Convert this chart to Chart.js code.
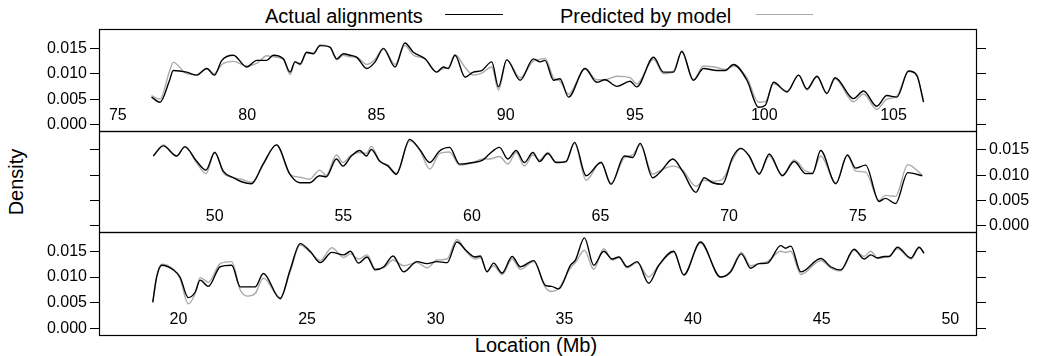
<!DOCTYPE html>
<html>
<head>
<meta charset="utf-8">
<script src="https://cdn.jsdelivr.net/npm/chart.js@4.4.1/dist/chart.umd.min.js"></script>
<style>
body { margin: 0; background: #fff; width: 1040px; height: 356px; position: relative; overflow: hidden; font-family: "Liberation Sans", Arial, sans-serif; }
canvas { position: absolute; left: 0; }
.txt { position: absolute; font-size: 20px; line-height: 20px; white-space: nowrap; color: #000; }
.key { position: absolute; height: 0; }
</style>
</head>
<body>
<div class="txt" style="left:265px; top:6px">Actual alignments</div>
<div class="key" style="left:445px; top:14px; width:58px; border-top:1.5px solid #000"></div>
<div class="txt" style="left:560px; top:6px">Predicted by model</div>
<div class="key" style="left:756px; top:14px; width:57px; border-top:1.5px solid #aaaaaa"></div>
<div class="txt" style="left:15.7px; top:181.5px; transform: translate(-50%, -50%) rotate(-90deg)">Density</div>
<div class="txt" style="left:536px; top:335px; transform: translateX(-50%)">Location (Mb)</div>

<canvas id="panel1" width="1040" height="130"></canvas>
<canvas id="panel2" width="1040" height="129"></canvas>
<canvas id="panel3" width="1040" height="131"></canvas>

<script>
// PANEL 1 (top)
const loc1 = [76.3, 76.63, 77.0, 77.14, 77.66, 78.05, 78.44, 78.73, 79.02, 79.47, 79.98, 80.37, 80.76, 81.01, 81.4, 81.66, 81.85, 82.05, 82.3, 82.56, 82.82, 83.2, 83.47, 83.72, 83.98, 84.24, 84.63, 84.95, 85.27, 85.72, 86.1, 86.43, 86.88, 87.33, 87.59, 87.78, 88.04, 88.43, 88.75, 89.07, 89.46, 89.72, 90.04, 90.56, 91.07, 91.33, 91.52, 91.85, 92.1, 92.43, 93.07, 93.52, 93.84, 94.3, 94.81, 95.07, 95.72, 96.1, 96.49, 96.81, 97.26, 97.65, 98.17, 98.49, 98.81, 99.33, 99.78, 100.04, 100.36, 100.88, 101.33, 101.65, 102.04, 102.42, 102.74, 103.45, 103.84, 104.35, 104.74, 105.13, 105.58, 105.9, 106.16]
const actual1 = [0.0054, 0.0044, 0.0087, 0.0106, 0.0103, 0.0097, 0.0110, 0.0097, 0.0126, 0.0136, 0.0113, 0.0126, 0.0126, 0.0136, 0.0129, 0.0103, 0.0123, 0.0119, 0.0142, 0.0139, 0.0155, 0.0152, 0.0129, 0.0139, 0.0136, 0.0132, 0.0110, 0.0123, 0.0149, 0.0113, 0.0160, 0.0142, 0.0129, 0.0103, 0.0113, 0.0110, 0.0136, 0.0093, 0.0103, 0.0106, 0.0123, 0.0074, 0.0127, 0.0087, 0.0129, 0.0123, 0.0126, 0.0087, 0.0090, 0.0054, 0.0110, 0.0083, 0.0088, 0.0075, 0.0085, 0.0074, 0.0132, 0.0103, 0.0103, 0.0144, 0.0087, 0.0110, 0.0106, 0.0106, 0.0118, 0.0087, 0.0034, 0.0038, 0.0083, 0.0064, 0.0097, 0.0070, 0.0095, 0.0061, 0.0092, 0.0051, 0.0066, 0.0036, 0.0057, 0.0054, 0.0105, 0.0097, 0.0044]
const predicted1 = [0.0057, 0.0050, 0.0105, 0.0122, 0.0100, 0.0098, 0.0110, 0.0100, 0.0118, 0.0124, 0.0115, 0.0120, 0.0135, 0.0133, 0.0128, 0.0098, 0.0123, 0.0117, 0.0140, 0.0140, 0.0156, 0.0152, 0.0127, 0.0136, 0.0133, 0.0132, 0.0118, 0.0128, 0.0150, 0.0118, 0.0155, 0.0136, 0.0129, 0.0103, 0.0110, 0.0112, 0.0137, 0.0112, 0.0097, 0.0101, 0.0113, 0.0068, 0.0128, 0.0092, 0.0125, 0.0128, 0.0130, 0.0092, 0.0085, 0.0060, 0.0110, 0.0088, 0.0088, 0.0095, 0.0092, 0.0080, 0.0128, 0.0100, 0.0105, 0.0142, 0.0088, 0.0115, 0.0112, 0.0108, 0.0115, 0.0092, 0.0044, 0.0045, 0.0080, 0.0066, 0.0097, 0.0068, 0.0094, 0.0062, 0.0090, 0.0045, 0.0060, 0.0030, 0.0050, 0.0056, 0.0104, 0.0095, 0.0048]
const ticks1 = [75, 80, 85, 90, 95, 100, 105]

// PANEL 2 (middle)
const loc2 = [47.61, 48.0, 48.52, 48.84, 49.29, 49.66, 50.0, 50.33, 50.72, 51.04, 51.43, 51.88, 52.4, 52.92, 53.31, 53.69, 54.08, 54.34, 54.73, 54.99, 55.31, 55.64, 55.9, 56.09, 56.41, 56.74, 57.06, 57.58, 57.97, 58.36, 58.74, 59.13, 59.52, 60.04, 60.42, 60.68, 61.07, 61.4, 61.72, 62.04, 62.37, 62.63, 62.95, 63.28, 63.66, 63.99, 64.44, 65.02, 65.41, 65.93, 66.25, 66.54, 67.03, 67.35, 67.81, 68.19, 68.71, 69.03, 69.36, 69.74, 70.13, 70.46, 70.78, 71.17, 71.56, 72.07, 72.53, 72.98, 73.24, 73.56, 74.15, 74.6, 74.92, 75.31, 75.83, 76.08, 76.47, 76.95, 77.51]
const actual2 = [0.0138, 0.0158, 0.0138, 0.0156, 0.0128, 0.0110, 0.0145, 0.0108, 0.0095, 0.0087, 0.0083, 0.0122, 0.0160, 0.0102, 0.0085, 0.0085, 0.0099, 0.0097, 0.0132, 0.0118, 0.0138, 0.0149, 0.0138, 0.0151, 0.0128, 0.0118, 0.0102, 0.0171, 0.0151, 0.0125, 0.0148, 0.0155, 0.0122, 0.0125, 0.0130, 0.0142, 0.0155, 0.0132, 0.0149, 0.0125, 0.0145, 0.0127, 0.0143, 0.0125, 0.0127, 0.0165, 0.0099, 0.0125, 0.0082, 0.0138, 0.0135, 0.0163, 0.0095, 0.0108, 0.0132, 0.0108, 0.0066, 0.0095, 0.0085, 0.0082, 0.0135, 0.0153, 0.0138, 0.0102, 0.0142, 0.0099, 0.0127, 0.0103, 0.0103, 0.0149, 0.0083, 0.0140, 0.0114, 0.0120, 0.0048, 0.0054, 0.0044, 0.0105, 0.0099]
const predicted2 = [0.0138, 0.0160, 0.0138, 0.0157, 0.0125, 0.0103, 0.0146, 0.0105, 0.0095, 0.0092, 0.0086, 0.0120, 0.0160, 0.0102, 0.0096, 0.0092, 0.0110, 0.0100, 0.0140, 0.0125, 0.0140, 0.0145, 0.0143, 0.0157, 0.0128, 0.0120, 0.0104, 0.0168, 0.0150, 0.0112, 0.0143, 0.0146, 0.0120, 0.0125, 0.0132, 0.0132, 0.0137, 0.0122, 0.0145, 0.0118, 0.0140, 0.0130, 0.0145, 0.0126, 0.0128, 0.0163, 0.0090, 0.0126, 0.0084, 0.0135, 0.0140, 0.0160, 0.0102, 0.0110, 0.0118, 0.0110, 0.0078, 0.0090, 0.0088, 0.0092, 0.0130, 0.0153, 0.0138, 0.0104, 0.0138, 0.0100, 0.0130, 0.0108, 0.0105, 0.0138, 0.0085, 0.0140, 0.0108, 0.0106, 0.0050, 0.0060, 0.0058, 0.0121, 0.0100]
const ticks2 = [50, 55, 60, 65, 70, 75]

// PANEL 3 (bottom)
const loc3 = [19.0, 19.15, 19.35, 19.8, 20.06, 20.38, 20.65, 20.84, 21.16, 21.62, 22.07, 22.4, 22.7, 22.98, 23.3, 23.95, 24.34, 24.73, 25.12, 25.51, 25.96, 26.42, 26.68, 27.0, 27.33, 27.65, 27.98, 28.34, 28.75, 29.27, 29.66, 30.05, 30.44, 30.82, 31.21, 31.53, 31.73, 31.99, 32.25, 32.58, 32.97, 33.29, 33.81, 34.26, 34.5, 34.78, 35.24, 35.43, 35.78, 36.14, 36.53, 36.86, 37.12, 37.44, 37.83, 38.28, 38.67, 39.25, 39.64, 40.29, 41.07, 41.46, 41.88, 42.24, 42.56, 42.89, 43.41, 43.6, 43.8, 44.19, 44.97, 45.35, 45.74, 46.26, 46.65, 46.91, 47.17, 47.43, 47.62, 47.95, 48.47, 48.79, 48.98]
const actual3 = [0.0051, 0.0100, 0.0123, 0.0114, 0.0100, 0.0060, 0.0071, 0.0094, 0.0082, 0.0120, 0.0123, 0.0081, 0.0081, 0.0081, 0.0107, 0.0058, 0.0114, 0.0165, 0.0150, 0.0128, 0.0148, 0.0143, 0.0150, 0.0127, 0.0139, 0.0114, 0.0120, 0.0141, 0.0110, 0.0130, 0.0126, 0.0130, 0.0128, 0.0168, 0.0150, 0.0139, 0.0141, 0.0110, 0.0127, 0.0108, 0.0140, 0.0120, 0.0132, 0.0084, 0.0082, 0.0077, 0.0123, 0.0133, 0.0176, 0.0123, 0.0150, 0.0135, 0.0139, 0.0120, 0.0130, 0.0088, 0.0123, 0.0150, 0.0104, 0.0168, 0.0100, 0.0110, 0.0145, 0.0117, 0.0126, 0.0127, 0.0161, 0.0156, 0.0160, 0.0110, 0.0136, 0.0120, 0.0114, 0.0154, 0.0135, 0.0143, 0.0137, 0.0140, 0.0140, 0.0158, 0.0137, 0.0158, 0.0146]
const predicted3 = [0.0052, 0.0100, 0.0125, 0.0115, 0.0097, 0.0048, 0.0068, 0.0099, 0.0090, 0.0126, 0.0130, 0.0075, 0.0063, 0.0068, 0.0098, 0.0060, 0.0110, 0.0162, 0.0148, 0.0132, 0.0157, 0.0138, 0.0145, 0.0135, 0.0143, 0.0116, 0.0118, 0.0133, 0.0122, 0.0128, 0.0118, 0.0133, 0.0135, 0.0173, 0.0148, 0.0135, 0.0138, 0.0112, 0.0122, 0.0105, 0.0135, 0.0115, 0.0130, 0.0080, 0.0072, 0.0078, 0.0118, 0.0128, 0.0152, 0.0115, 0.0155, 0.0133, 0.0138, 0.0118, 0.0128, 0.0100, 0.0123, 0.0148, 0.0105, 0.0166, 0.0100, 0.0112, 0.0148, 0.0122, 0.0126, 0.0130, 0.0150, 0.0148, 0.0150, 0.0105, 0.0132, 0.0118, 0.0112, 0.0152, 0.0140, 0.0150, 0.0137, 0.0138, 0.0140, 0.0155, 0.0135, 0.0157, 0.0148]
const ticks3 = [20, 25, 30, 35, 40, 45, 50]

const yTicks = [0, 0.005, 0.010, 0.015]

Chart.defaults.font.family = '"Liberation Sans", Arial, sans-serif'
Chart.defaults.color = '#000'

const PAD = 14

// box round the panel + x labels inside it
const panelBox = {
    id: 'panelBox',
    afterDraw(chart, args, opts) {
        const ctx = chart.ctx
        const a = chart.chartArea
        ctx.save()
        ctx.strokeStyle = '#000'
        ctx.lineWidth = 1.2
        ctx.strokeRect(Math.round(a.left) + 0.5, Math.round(a.top) + 0.5, Math.round(a.right - a.left), Math.round(a.bottom - a.top))
        ctx.fillStyle = '#000'
        ctx.font = '16px "Liberation Sans", Arial, sans-serif'
        ctx.textAlign = 'center'
        ctx.textBaseline = 'middle'
        const xs = chart.scales.x
        for (const t of opts.ticks) {
            ctx.fillText(String(t), xs.getPixelForValue(t), a.bottom - 15.5)
        }
        ctx.restore()
    }
}

function yAxis(side, showLabels, width) {
    return {
        type: 'linear',
        position: side,
        min: -0.00125,
        max: 0.01875,
        afterBuildTicks: s => { s.ticks = yTicks.map(v => ({ value: v })) },
        afterFit: s => { s.width = width },
        grid: { drawOnChartArea: false, drawTicks: true, tickLength: side === 'left' ? 9 : 10, color: '#000', lineWidth: 1 },
        border: { display: true, color: '#000', width: 1 },
        ticks: {
            display: showLabels,
            padding: 3,
            font: { size: 16 },
            color: '#000',
            callback: v => v.toFixed(3)
        }
    }
}

function makePanel(id, loc, actual, predicted, xMin, xMax, xTicks, labelSide) {
    const ctx = document.getElementById(id).getContext('2d')
    return new Chart(ctx, {
        type: 'line',
        data: {
            datasets: [{
                label: 'Actual alignments',
                data: loc.map((x, i) => ({ x: x, y: actual[i] })),
                borderColor: '#000',
                borderWidth: 1.4,
                pointRadius: 0,
                cubicInterpolationMode: 'monotone',
                fill: false,
                yAxisID: 'yL'
            }, {
                label: 'Predicted by model',
                data: loc.map((x, i) => ({ x: x, y: predicted[i] })),
                borderColor: '#aaaaaa',
                borderWidth: 1.4,
                pointRadius: 0,
                cubicInterpolationMode: 'monotone',
                fill: false,
                yAxisID: 'yL'
            }]
        },
        options: {
            responsive: false,
            animation: false,
            layout: { padding: { top: PAD, bottom: PAD, left: 0, right: 0 } },
            plugins: {
                legend: { display: false },
                tooltip: { enabled: false },
                panelBox: { ticks: xTicks }
            },
            scales: {
                x: { type: 'linear', min: xMin, max: xMax, display: false },
                yL: yAxis('left', labelSide === 'left', 99),
                yR: yAxis('right', labelSide === 'right', 64)
            }
        },
        plugins: [panelBox]
    })
}

// canvases: panel box tops 29, 131, 232
const c1 = document.getElementById('panel1'); c1.style.top = (29 - PAD) + 'px'
const c2 = document.getElementById('panel2'); c2.style.top = (131 - PAD) + 'px'
const c3 = document.getElementById('panel3'); c3.style.top = (232 - PAD) + 'px'

makePanel('panel1', loc1, actual1, predicted1, 74.27, 108.19, ticks1, 'left')
makePanel('panel2', loc2, actual2, predicted2, 45.5, 79.6, ticks2, 'right')
makePanel('panel3', loc3, actual3, predicted3, 16.91, 51.0, ticks3, 'left')
</script>
</body>
</html>
